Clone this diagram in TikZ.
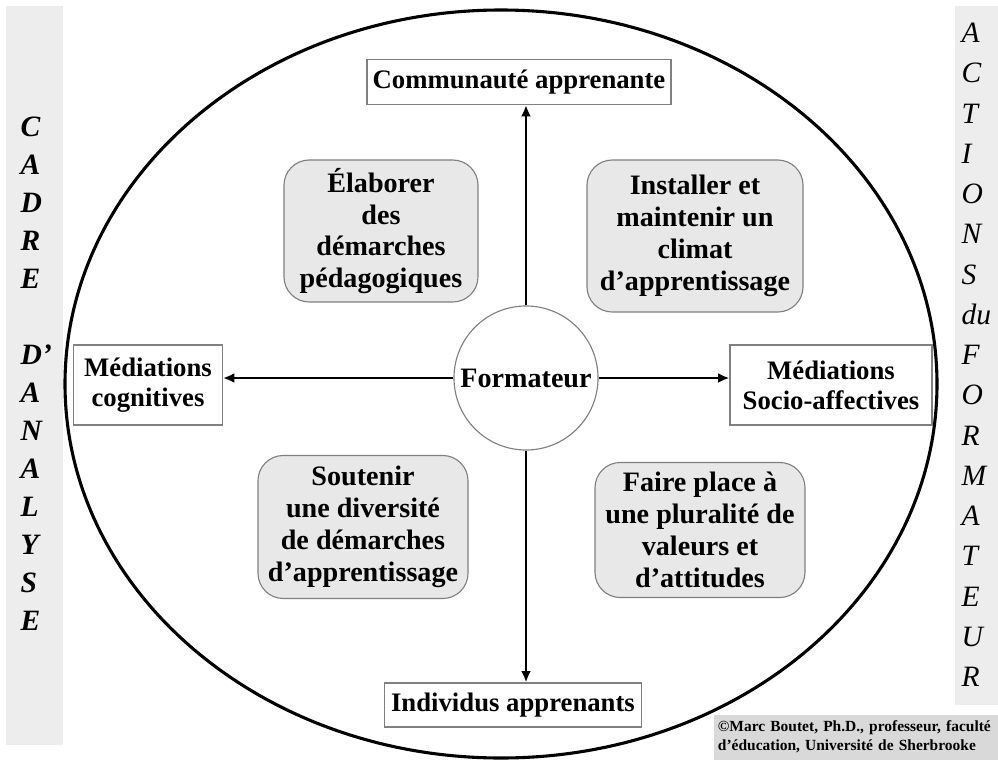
\documentclass[tikz,border=0pt]{standalone}
\usepackage{fontspec}
\setmainfont{Liberation Serif}
\usetikzlibrary{arrows.meta}

\definecolor{stripgray}{HTML}{EDEDED}
\definecolor{boxgray}{HTML}{E8E8E8}
\definecolor{edgegray}{HTML}{808080}
\definecolor{notegray}{HTML}{D9D9D9}

\begin{document}
\begin{tikzpicture}[x=0.025cm, y=-0.025cm, line width=1pt,
    labelbox/.style={draw=edgegray, fill=white, line width=0.8pt, inner sep=0pt, align=center, font=\fontsize{19}{21.5}\selectfont\bfseries},
    actionbox/.style={draw=edgegray, fill=boxgray, rounded corners=18pt, line width=0.8pt, inner sep=0pt, align=center, font=\fontsize{20}{22.7}\selectfont\bfseries},
    axisarrow/.style={line width=2pt, -{Latex[length=8pt,width=7pt]}},
    sideletter/.style={anchor=west, inner sep=0pt}]

    \useasboundingbox (0,0) rectangle (998,762);

    % Grey side bands
    \fill[stripgray] (6,6) rectangle (63,745);
    \fill[stripgray] (955,6) rectangle (998,705);

    % Big ellipse
    \draw[line width=2.2pt] (501,384) ellipse [x radius=436, y radius=374];

    % Poles of the two axes
    \node[labelbox, minimum width=7.6cm, minimum height=1.125cm] (commu) at (519,82) {Communaut\'e apprenante};
    \node[labelbox, minimum width=6.425cm, minimum height=1.1cm] (indiv) at (513,705) {Individus apprenants};
    \node[labelbox, minimum width=3.725cm, minimum height=2cm] (cogni) at (148,385) {M\'ediations\\cognitives};
    \node[labelbox, minimum width=5.05cm, minimum height=2cm] (socio) at (831,385) {M\'ediations\\Socio-affectives};

    % Four quadrants
    \node[actionbox, minimum width=4.85cm, minimum height=3.55cm] (elabo) at (381,231) {\'Elaborer\\des\\d\'emarches\\p\'edagogiques};
    \node[actionbox, minimum width=5.4cm, minimum height=3.8cm] (insta) at (695,236) {Installer et\\maintenir un\\climat\\d’apprentissage};
    \node[actionbox, minimum width=5.25cm, minimum height=3.575cm] (soute) at (363,527) {Soutenir\\une diversit\'e\\de d\'emarches\\d’apprentissage};
    \node[actionbox, minimum width=5.25cm, minimum height=3.375cm] (faire) at (700,530) {Faire place \`a\\une pluralit\'e de\\valeurs et\\d’attitudes};

    % Centre
    \node[circle, draw=edgegray, fill=white, line width=0.8pt, minimum size=3.6cm, inner sep=0pt, font=\fontsize{20}{22}\selectfont\bfseries] (forma) at (526,378) {Formateur};

    % Axes
    \draw[axisarrow] (forma.north) -- (forma.north |- commu.south);
    \draw[axisarrow] (forma.south) -- (forma.south |- indiv.north);
    \draw[axisarrow] (forma.west) -- (forma.west -| cogni.east);
    \draw[axisarrow] (forma.east) -- (forma.east -| socio.west);

    % Side words
    \foreach \l [count=\i] in {C,A,D,R,E,{},D’,A,N,A,L,Y,S,E}
        \node[sideletter, font=\fontsize{21}{24}\selectfont\bfseries\itshape] (cadre\i) at (20,89+38*\i) {\l};
    \foreach \l [count=\i] in {A,C,T,I,O,N,S,du,F,O,R,M,A,T,E,U,R}
        \node[sideletter, font=\fontsize{21}{24}\selectfont\itshape] (actio\i) at (961,-7.25+40.25*\i) {\l};

    % Credit
    \node[fill=notegray, anchor=north west, minimum width=7.125cm, minimum height=1.125cm, inner sep=3pt, text width=7.4cm, align=left, font=\fontsize{11}{13.5}\selectfont\bfseries] (credit) at (713,714) {\textcopyright Marc Boutet, Ph.D., professeur, facult\'e\\d’\'education, Universit\'e de Sherbrooke};

\end{tikzpicture}
\end{document}
